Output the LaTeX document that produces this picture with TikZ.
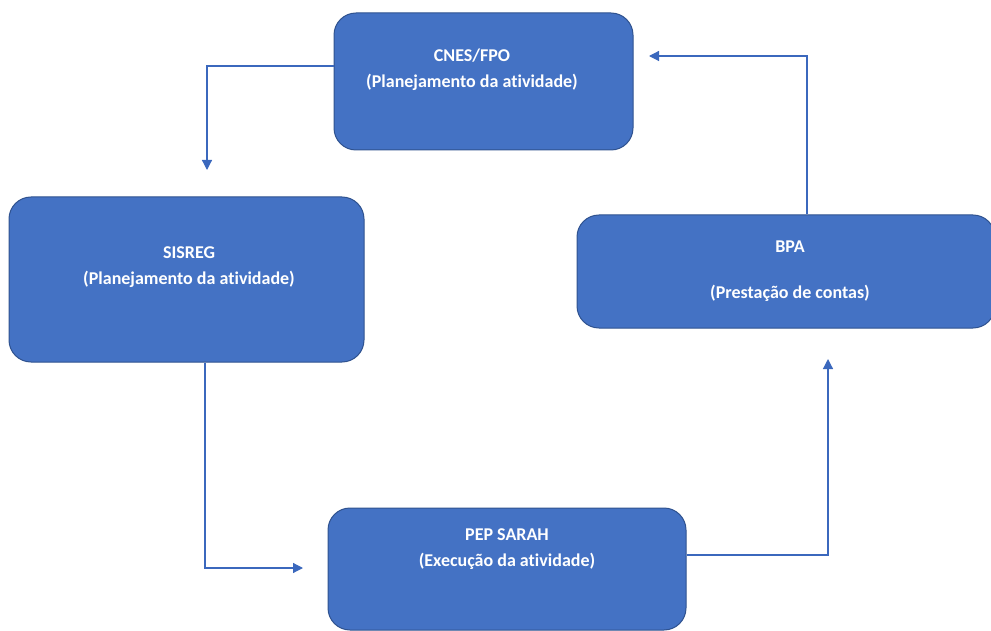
\documentclass[tikz,border=0pt]{standalone}
\usepackage{fontspec}
\setmainfont[Ligatures=NoCommon]{Carlito}
\usetikzlibrary{arrows.meta}
\definecolor{boxfill}{HTML}{4472C4}
\definecolor{boxline}{HTML}{2F528F}
\definecolor{connline}{HTML}{3B68BD}
\tikzset{
  stepbox/.style={draw=boxline, line width=1pt, fill=boxfill, rounded corners=22pt, inner sep=0pt},
  boxtext/.style={text=white, font=\bfseries\fontsize{18}{26}\selectfont, align=center, inner sep=0pt},
  conn/.style={draw=connline, line width=1.2pt, -{Triangle[length=10pt,width=10pt]}}
}
\begin{document}
\begin{tikzpicture}[x=1pt,y=-1pt]
\useasboundingbox (0,0) rectangle (991,631);
% boxes
\node[stepbox, minimum width=299pt, minimum height=137pt] (cnes) at (483.5,81.5) {};
\node[stepbox, minimum width=355pt, minimum height=165pt] (sisreg) at (186.5,279.5) {};
\node[stepbox, minimum width=418pt, minimum height=113pt] (bpa) at (786,271.5) {};
\node[stepbox, minimum width=358pt, minimum height=122pt] (pep) at (507,569) {};
% texts
\node[boxtext] (cnesT) at (472,70) {CNES/FPO\\(Planejamento da atividade)};
\node[boxtext] (sisregT) at (189,267) {SISREG\\(Planejamento da atividade)};
\node[boxtext] (bpaT) at (790,271) {BPA\\[20pt](Prestação de contas)};
\node[boxtext] (pepT) at (507,549) {PEP SARAH\\(Execução da atividade)};
% connector points
\coordinate (c1) at (207,66);
\coordinate (a1) at (207,170);
\coordinate (c2) at (205,568);
\coordinate (a2) at (303,568);
\coordinate (c3) at (828,555);
\coordinate (a3) at (828,359);
\coordinate (c4) at (807,56);
\coordinate (a4) at (649,56);
% connectors
\draw[conn] (cnes.west |- c1) -- (c1) -- (a1);
\draw[conn] (sisreg.south -| c2) -- (c2) -- (a2);
\draw[conn] (pep.east |- c3) -- (c3) -- (a3);
\draw[conn] (bpa.north -| c4) -- (c4) -- (a4);
\end{tikzpicture}
\end{document}
